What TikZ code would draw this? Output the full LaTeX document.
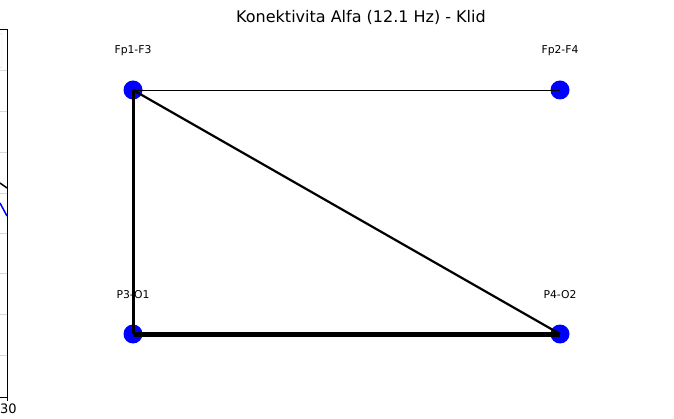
\documentclass[tikz,border=0pt]{standalone}
\usepackage{fontspec}
\setmainfont{DejaVu Sans}

\begin{document}
\begin{tikzpicture}[
x=1pt,y=-1pt,
chan/.style={
circle,
fill=blue,
minimum size=19pt,
inner sep=0pt},
chanlabel/.style={
font=\fontsize{10.8}{12}\selectfont},
link/.style={black}
]

\useasboundingbox (0,0) rectangle (674,419);

% part of the neighbouring plot
\foreach \gy in {70,111,152,193,233,273,314,355}
  \draw[black!15] (0,\gy) -- (7,\gy);
\draw[black!15,rounded corners=2pt] (-5,33) -- (2,33) -- (2,68) -- (-5,68);
\draw[line width=1.5pt] (0,183) -- (7,188);
\draw[blue,line width=1.5pt] (0,203) -- (7,216);
\draw[semithick] (0,29) -- (7,29) -- (7,397) -- (0,397);
\draw[semithick] (7,397) -- (7,401);
\node[font=\fontsize{13}{15}\selectfont,anchor=west,inner sep=0pt] (xtick) at (0,409) {30};

\node[font=\fontsize{16}{18}\selectfont] (title) at (361,17) {Konektivita Alfa (12.1 Hz) - Klid};

\node[chan] (fp1) at (133,90) {};
\node[chan] (fp2) at (560,90) {};
\node[chan] (p3) at (133,334) {};
\node[chan] (p4) at (560,334) {};

\node[chanlabel] (fp1lbl) at (133,51) {Fp1-F3};
\node[chanlabel] (fp2lbl) at (560,51) {Fp2-F4};
\node[chanlabel] (p3lbl) at (133,295) {P3-O1};
\node[chanlabel] (p4lbl) at (560,295) {P4-O2};

\draw[link,line width=0.9pt] (fp1.center) -- (fp2.center);
\draw[link,line width=3pt] (fp1.center) -- (p3.center);
\draw[link,line width=2.2pt] (fp1.center) -- (p4.center);
\draw[link,line width=5pt] (p3.center) -- (p4.center);

\end{tikzpicture}
\end{document}
